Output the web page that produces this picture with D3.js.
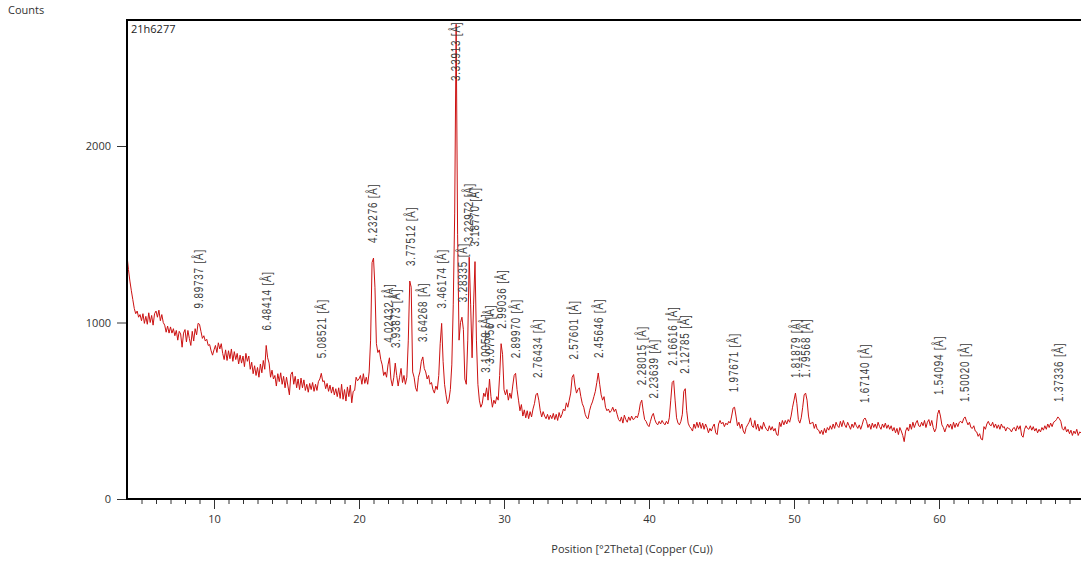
<!DOCTYPE html>
<html>
<head>
<meta charset="utf-8">
<script src="https://cdn.jsdelivr.net/npm/d3@7"></script>
<style>
  body { margin: 0; background: #fff; }
  svg { display: block; }
</style>
</head>
<body>
<svg width="1081" height="566"></svg>
<script>
var WIDTH = 1081;
var HEIGHT = 566;

var sampleName = '21h6277';
var startAngle = 4.0;   // first point [°2Theta]
var stepSize = 0.1;     // scan step [°2Theta]

// measured counts, one value per step from 4.0 to 69.8 °2Theta
var counts = [
    1380, 1300, 1235, 1180, 1130, 1080, 1050, 1065, 1030, 1045,   // 4
    1010, 1050, 995, 1035, 990, 1055, 1000, 1040, 985, 1050,      // 5
    1065, 1030, 1070, 1010, 1045, 1000, 985, 945, 980, 940,       // 6
    975, 940, 965, 925, 955, 900, 950, 935, 860, 940,             // 7
    960, 890, 955, 910, 870, 950, 895, 965, 930, 995,             // 8
    990, 950, 910, 925, 895, 905, 870, 875, 840, 815,             // 9
    845, 870, 830, 885, 850, 880, 825, 790, 845, 785,             // 10
    840, 795, 850, 780, 835, 790, 825, 765, 815, 770,             // 11
    810, 750, 825, 780, 810, 735, 775, 710, 755, 700,             // 12
    745, 690, 765, 715, 785, 735, 870, 800, 770, 690,             // 13
    730, 680, 700, 640, 710, 665, 715, 650, 695, 630,             // 14
    690, 640, 590, 705, 720, 650, 695, 630, 680, 620,             // 15
    685, 630, 675, 615, 650, 605, 655, 620, 660, 610,             // 16
    650, 615, 665, 680, 712, 665, 670, 625, 655, 610,             // 17
    645, 600, 635, 590, 625, 580, 630, 570, 650, 565,             // 18
    620, 555, 635, 580, 645, 545, 610, 615, 690, 670,             // 19
    680, 700, 650, 710, 655, 690, 650, 720, 900, 1340,            // 20
    1365, 1200, 880, 830, 845, 790, 760, 700, 720, 690,           // 21
    760, 800, 680, 640, 690, 770, 700, 640, 690, 740,             // 22
    660, 700, 650, 690, 900, 1235, 1200, 720, 690, 630,           // 23
    610, 690, 720, 780, 805, 740, 720, 680, 700, 650,             // 24
    660, 620, 600, 640, 620, 700, 880, 995, 780, 650,             // 25
    590, 540, 560, 620, 760, 1100, 1620, 2690, 1500, 900,         // 26
    1000, 1030, 960, 680, 650, 900, 1370, 1100, 800, 1100,        // 27
    1345, 900, 650, 560, 520, 540, 600, 580, 630, 560,            // 28
    680, 580, 520, 560, 540, 580, 560, 700, 880, 820,             // 29
    620, 590, 620, 560, 600, 570, 640, 700, 712, 620,             // 30
    560, 500, 535, 470, 505, 460, 500, 455, 495, 465,             // 31
    510, 540, 590, 600, 560, 500, 465, 495, 470, 455,             // 32
    480, 450, 475, 455, 485, 450, 480, 445, 490, 460,             // 33
    480, 510, 500, 545, 520, 560, 600, 690, 705, 640,             // 34
    600, 620, 630, 580, 540, 520, 480, 460, 455, 500,             // 35
    530, 550, 580, 610, 660, 714, 650, 590, 560, 580,             // 36
    520, 500, 510, 490, 500, 520, 495, 510, 480, 450,             // 37
    440, 465, 430, 475, 450, 435, 465, 445, 470, 450,             // 38
    455, 470, 460, 490, 540, 560, 500, 450, 440, 420,             // 39
    410, 440, 470, 485, 450, 430, 420, 440, 425, 445,             // 40
    430, 420, 440, 425, 460, 560, 660, 670, 560, 460,             // 41
    430, 420, 440, 480, 610, 625, 500, 430, 410, 400,             // 42
    385, 425, 400, 435, 405, 435, 400, 430, 395, 425,             // 43
    405, 375, 400, 385, 410, 425, 375, 365, 425, 445,             // 44
    425, 435, 410, 430, 420, 440, 430, 470, 515, 520,             // 45
    470, 415, 435, 400, 425, 385, 370, 405, 420, 435,             // 46
    460, 415, 405, 445, 395, 425, 385, 415, 395, 435,             // 47
    410, 395, 385, 415, 390, 410, 385, 400, 365, 360,             // 48
    435, 410, 445, 420, 445, 425, 450, 435, 470, 520,             // 49
    560, 600, 540, 450, 430, 460, 520, 590, 600, 560,             // 50
    470, 425, 430, 435, 400, 425, 395, 390, 370, 390,             // 51
    365, 400, 375, 405, 390, 415, 395, 425, 400, 435,             // 52
    415, 405, 440, 410, 445, 420, 405, 435, 415, 395,             // 53
    425, 405, 435, 415, 400, 420, 395, 420, 450, 459,             // 54
    440, 405, 425, 395, 430, 405, 425, 400, 435, 410,             // 55
    395, 425, 405, 430, 400, 420, 395, 415, 385, 405,             // 56
    375, 400, 365, 405, 385, 360, 325, 385, 405, 385,             // 57
    425, 395, 435, 405, 430, 445, 415, 410, 435, 415,             // 58
    445, 405, 435, 450, 415, 445, 405, 380, 400, 480,             // 59
    504, 470, 420, 405, 380, 405, 425, 405, 425, 395,             // 60
    435, 405, 430, 410, 435, 440, 430, 455, 465, 440,             // 61
    420, 435, 405, 400, 415, 385, 380, 355, 370, 340,             // 62
    335, 410, 395, 425, 440, 420, 415, 435, 405, 425,             // 63
    400, 420, 395, 425, 405, 410, 385, 405, 400, 395,             // 64
    380, 400, 405, 385, 415, 395, 415, 360, 350, 395,             // 65
    415, 400, 395, 415, 390, 410, 385, 400, 375, 395,             // 66
    380, 405, 390, 415, 395, 425, 405, 430, 410, 435,             // 67
    440, 450, 465, 455, 440, 400, 390, 410, 380, 395,             // 68
    370, 390, 360, 385, 370, 395, 360, 380, 375                   // 69
];

// labelled peaks: d-spacing text and position
var peakLabels = ['9.89737', '6.48414', '5.08521', '4.23276', '4.02432', '3.93873',
    '3.77512', '3.64268', '3.46174', '3.33913', '3.28335', '3.22972', '3.18770',
    '3.10058', '3.07756', '2.99036', '2.89970', '2.76434', '2.57601', '2.45646',
    '2.28015', '2.23639', '2.16616', '2.12785', '1.97671', '1.81879', '1.79568',
    '1.67140', '1.54094', '1.50020', '1.37336'];
var peakPositions = [8.93, 13.65, 17.43, 20.97, 22.07, 22.55, 23.55, 24.42, 25.71,
    26.67, 27.14, 27.60, 27.97, 28.77, 28.99, 29.85, 30.81, 32.36, 34.80, 36.55,
    39.49, 40.30, 41.66, 42.45, 45.87, 50.11, 50.80, 54.89, 59.99, 61.79, 68.23];

var xMajorTicks = [10, 20, 30, 40, 50, 60];
var yTicks = [0, 1000, 2000];

var data = counts.map(function(c, i) {
    return { angle: startAngle + i * stepSize, count: c };
});

var plotLeft = 127, plotTop = 20, plotBottom = 499;
var x = d3.scaleLinear().domain([4, 70]).range([plotLeft, plotLeft + 66 * 14.5]);
var y = d3.scaleLinear().domain([0, 2714]).range([plotBottom, plotTop]);

var svg = d3.select('svg')
    .attr('width', WIDTH)
    .attr('height', HEIGHT)
    .style('font-family', "'Open Sans', 'Noto Sans', sans-serif");

svg.append('clipPath').attr('id', 'plot')
    .append('rect')
    .attr('x', plotLeft).attr('y', plotTop)
    .attr('width', WIDTH - plotLeft).attr('height', plotBottom - plotTop);

// pattern
var line = d3.line()
    .x(function(d) { return x(d.angle); })
    .y(function(d) { return y(d.count); });

svg.append('path')
    .datum(data)
    .attr('clip-path', 'url(#plot)')
    .attr('fill', 'none')
    .attr('stroke', '#cc1111')
    .attr('stroke-width', 1)
    .attr('stroke-linejoin', 'miter')
    .attr('d', line);

// peak labels sit a little above the highest point near each peak
// (narrow font faked with a horizontal squeeze)
var labelLen = 60;
var labels = svg.append('g')
    .style('font-family', "'Liberation Sans', Arial, sans-serif")
    .style('font-size', '12px')
    .style('letter-spacing', '1px')
    .attr('fill', '#3a3a3a');

peakPositions.forEach(function(pos, i) {
    var near = data.filter(function(d) { return Math.abs(d.angle - pos) <= 0.15; });
    var h = d3.max(near, function(d) { return d.count; });
    var base = y(h) - 15;
    if (base - labelLen < plotTop + 1) base = plotTop + 1 + labelLen;
    labels.append('text')
        .attr('transform', 'translate(' + x(pos) + ',' + base + ') rotate(-90) scale(0.82,1)')
        .attr('dy', '0.35em')
        .text(peakLabels[i] + ' [Å]');
});

// frame and axes
svg.append('line')
    .attr('x1', plotLeft).attr('x2', WIDTH)
    .attr('y1', plotTop).attr('y2', plotTop)
    .attr('stroke', '#000').attr('stroke-width', 2);

var xMinor = svg.append('g')
    .attr('transform', 'translate(0,' + plotBottom + ')')
    .call(d3.axisBottom(x).tickValues(d3.range(5, 70)).tickSize(5).tickFormat(''));
xMinor.select('.domain').remove();
xMinor.selectAll('line').attr('stroke', '#333');

var xAxis = svg.append('g')
    .attr('transform', 'translate(0,' + plotBottom + ')')
    .call(d3.axisBottom(x).tickValues(xMajorTicks).tickSize(10).tickPadding(6));
xAxis.select('.domain').remove();
xAxis.selectAll('line').attr('stroke', '#333');
xAxis.selectAll('text')
    .attr('fill', '#333')
    .style('font-family', "'Open Sans', 'Noto Sans', sans-serif")
    .style('font-size', '11px');

var yAxis = svg.append('g')
    .attr('transform', 'translate(' + plotLeft + ',0)')
    .call(d3.axisLeft(y).tickValues(yTicks).tickSize(10).tickPadding(6).tickFormat(d3.format('d')));
yAxis.select('.domain').remove();
yAxis.selectAll('line').attr('stroke', '#333');
yAxis.selectAll('text')
    .attr('fill', '#333')
    .style('font-family', "'Open Sans', 'Noto Sans', sans-serif")
    .style('font-size', '11px');

svg.append('line')
    .attr('x1', plotLeft).attr('x2', WIDTH)
    .attr('y1', plotBottom).attr('y2', plotBottom)
    .attr('stroke', '#000').attr('stroke-width', 2);
svg.append('line')
    .attr('x1', plotLeft).attr('x2', plotLeft)
    .attr('y1', plotTop - 1).attr('y2', plotBottom + 1)
    .attr('stroke', '#000').attr('stroke-width', 2);

// titles
svg.append('text')
    .attr('x', 8).attr('y', 14)
    .attr('fill', '#333')
    .style('font-size', '11px')
    .text('Counts');

svg.append('text')
    .attr('x', 131).attr('y', 33)
    .attr('fill', '#222')
    .style('font-size', '11px')
    .text(sampleName);

svg.append('text')
    .attr('x', 632).attr('y', 553)
    .attr('text-anchor', 'middle')
    .attr('fill', '#333')
    .style('font-size', '11px')
    .text('Position [°2Theta] (Copper (Cu))');
</script>
</body>
</html>
